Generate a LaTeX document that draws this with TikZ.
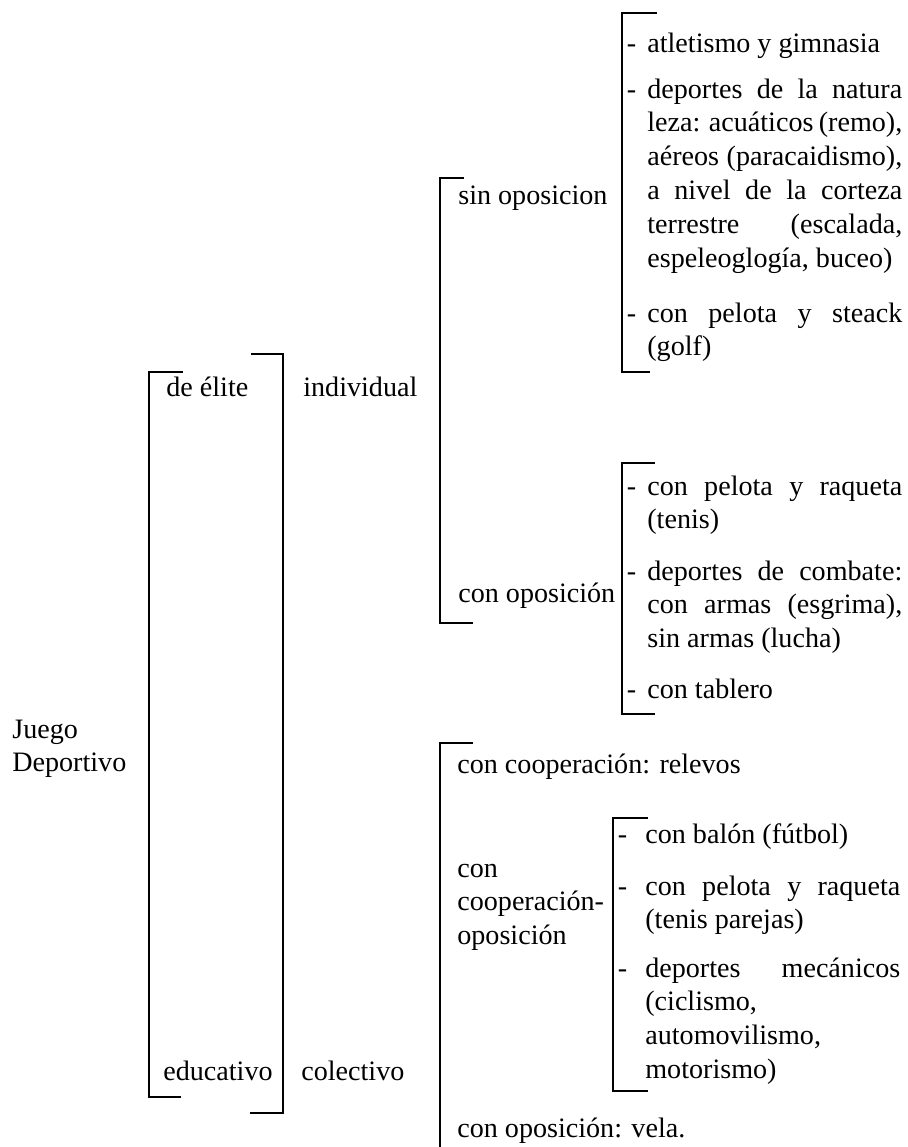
\documentclass[tikz,border=0pt]{standalone}
\usepackage{fontspec}
\setmainfont{Liberation Serif}
\usepackage{tikz}

\begin{document}
\begin{tikzpicture}[
    x=0.02cm, y=-0.02cm,
    txt/.style={anchor=base west, inner sep=0pt, font=\fontsize{16}{19.3}\selectfont},
    stack/.style={txt, text width=4cm, align=left},
    entry/.style={txt, text width=5.1cm, align=justify,
        execute at begin node={\tolerance=10000\leavevmode\llap{-\hspace{#1}}}},
    entry/.default=0.22cm,
    brk/.style={line width=0.9pt}
]
    \useasboundingbox (0,0) rectangle (908,1147);

    % Root and first level
    \node[stack] (juego) at (12,738) {Juego\\Deportivo};
    \node[txt] (elite) at (166,396) {de élite};
    \node[txt] (educ) at (163,1080) {educativo};
    \node[txt] (indiv) at (303,396) {individual};
    \node[txt] (colec) at (301,1080) {colectivo};

    % Individual branch
    \node[txt] (sinop) at (458,204) {sin oposicion};
    \node[txt] (conop) at (458,602) {con oposición};
    \node[entry] (sin1) at (647,52) {atletismo y gimnasia};
    \node[entry] (sin2) at (647,98) {deportes de la natura\linebreak leza: acuáticos (remo),\linebreak aéreos (paracaidismo),\linebreak a nivel de la corteza\linebreak terrestre (escalada,\linebreak espeleoglogía, buceo)};
    \node[entry] (sin3) at (647,322) {con pelota y steack\linebreak (golf)};
    \node[entry] (con1) at (647,495) {con pelota y raqueta\linebreak (tenis)};
    \node[entry] (con2) at (647,580) {deportes de combate:\linebreak con armas (esgrima),\linebreak sin armas (lucha)};
    \node[entry] (con3) at (647,698) {con tablero};

    % Colectivo branch
    \node[txt] (relevos) at (457,773) {con cooperación: relevos};
    \node[stack] (coopop) at (457,877) {con\\cooperación-\\oposición};
    \node[txt] (vela) at (457,1137) {con oposición: vela.};
    \node[entry=0.36cm] (cop1) at (645,843) {con balón (fútbol)};
    \node[entry=0.36cm] (cop2) at (645,895) {con pelota y raqueta\linebreak (tenis parejas)};
    \node[entry=0.36cm] (cop3) at (645,977) {deportes mecánicos\linebreak (ciclismo,\newline automovilismo,\newline motorismo)};

    % Brackets
    \draw[brk] (183,372) -- (149,372) -- (149,1097) -- (181,1097);
    \draw[brk] (251,354) -- (283,354) -- (283,1113) -- (250,1113);
    \draw[brk] (464,178) -- (440,178) -- (440,623) -- (473,623);
    \draw[brk] (657,13) -- (622,13) -- (622,372) -- (650,372);
    \draw[brk] (655,463) -- (622,463) -- (622,714) -- (655,714);
    \draw[brk] (473,743) -- (440,743) -- (440,1147);
    \draw[brk] (648,818) -- (613,818) -- (613,1091) -- (648,1091);
\end{tikzpicture}
\end{document}
